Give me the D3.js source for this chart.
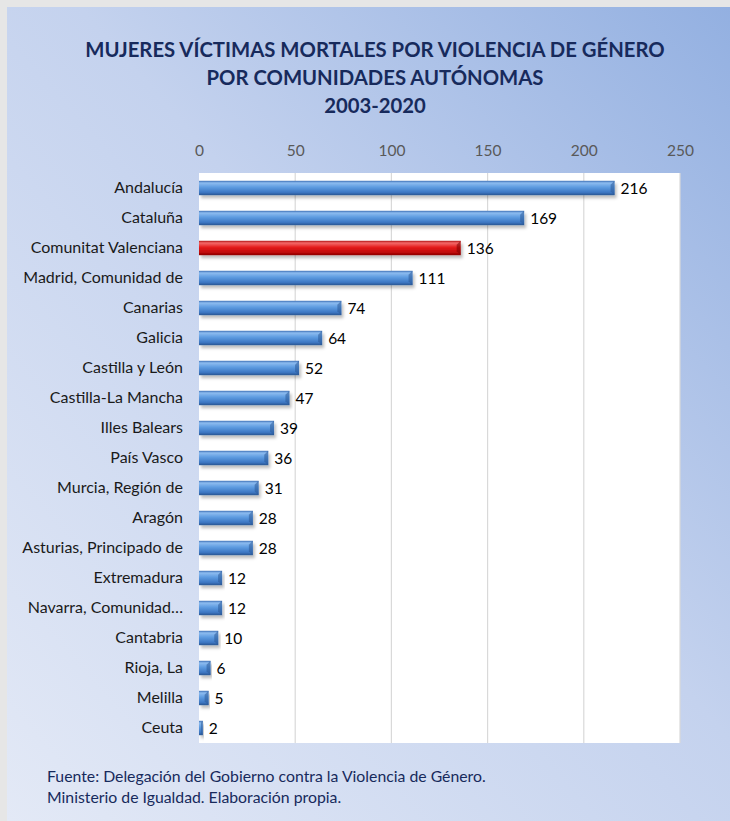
<!DOCTYPE html>
<html>
<head>
<meta charset="utf-8">
<script src="https://cdn.jsdelivr.net/npm/d3@7"></script>
<style>
  body { margin: 0; background: #fff; }
  svg { display: block; font-family: Lato, "Open Sans", sans-serif; }
</style>
</head>
<body>
<svg id="chart"></svg>
<script>
// Data
const regions = ["Andalucía", "Cataluña", "Comunitat Valenciana", "Madrid, Comunidad de ",
  "Canarias", "Galicia", "Castilla y León", "Castilla-La Mancha", "Illes Balears",
  "País Vasco", "Murcia, Región de", "Aragón", "Asturias, Principado de", "Extremadura",
  "Navarra, Comunidad…", "Cantabria", "Rioja, La", "Melilla", "Ceuta"];
const victims = [216, 169, 136, 111, 74, 64, 52, 47, 39, 36, 31, 28, 28, 12, 12, 10, 6, 5, 2];
const highlight = "Comunitat Valenciana";
const xTicks = [0, 50, 100, 150, 200, 250];
const titleLines = ["MUJERES VÍCTIMAS MORTALES POR VIOLENCIA DE GÉNERO",
  "POR COMUNIDADES AUTÓNOMAS", "2003-2020"];
const sourceLines = ["Fuente: Delegación del Gobierno contra la Violencia de Género.",
  "Ministerio de Igualdad. Elaboración propia."];

const width = 730, height = 821;
const plot = { left: 199, right: 680, top: 173, bottom: 743 };

const svg = d3.select("#chart").attr("width", width).attr("height", height);
const defs = svg.append("defs");

// background gradient, light at the bottom-left, deeper blue top-right
const bg = defs.append("linearGradient").attr("id", "bg")
  .attr("x1", 0).attr("y1", 1).attr("x2", 1).attr("y2", 0);
bg.append("stop").attr("offset", 0).attr("stop-color", "#e3e9f6");
bg.append("stop").attr("offset", 0.55).attr("stop-color", "#c4d2ee");
bg.append("stop").attr("offset", 1).attr("stop-color", "#93b0e1");

function barGradient(id, stops) {
  const g = defs.append("linearGradient").attr("id", id)
    .attr("x1", 0).attr("y1", 0).attr("x2", 0).attr("y2", 1);
  stops.forEach(s => g.append("stop").attr("offset", s[0]).attr("stop-color", s[1]));
}
barGradient("blue", [[0, "#3d6fb5"], [0.15, "#8cbcf0"], [0.45, "#5d9be0"], [0.8, "#3e78c4"], [1, "#2a5592"]]);
barGradient("red", [[0, "#b01010"], [0.15, "#f36a6a"], [0.45, "#e41e1e"], [0.8, "#c00a0a"], [1, "#8a0000"]]);

const shadow = defs.append("filter").attr("id", "shadow")
  .attr("x", "-5%").attr("y", "-30%").attr("width", "115%").attr("height", "190%");
shadow.append("feDropShadow").attr("dx", 2).attr("dy", 3).attr("stdDeviation", 1.6)
  .attr("flood-color", "#000").attr("flood-opacity", 0.25);

svg.append("rect").attr("x", 0).attr("y", 0).attr("width", width).attr("height", height).attr("fill", "#e6e6e6");
svg.append("rect").attr("x", 7).attr("y", 7).attr("width", width - 7).attr("height", height - 7).attr("fill", "url(#bg)");

// title
svg.append("g").selectAll("text").data(titleLines).enter().append("text")
  .attr("x", 375).attr("y", (d, i) => 57 + i * 28)
  .attr("text-anchor", "middle")
  .attr("font-size", 20.3).attr("font-weight", "bold").attr("fill", "#172a5c")
  .text(d => d);

// scales
const x = d3.scaleLinear().domain([0, 250]).range([plot.left, plot.right]);
const y = d3.scaleBand().domain(regions).range([plot.top, plot.bottom]).paddingInner(0.52).paddingOuter(0.26);

svg.append("rect").attr("x", plot.left).attr("y", plot.top)
  .attr("width", plot.right - plot.left).attr("height", plot.bottom - plot.top).attr("fill", "#fff");

// gridlines
svg.append("g").selectAll("line").data(xTicks.slice(1)).enter().append("line")
  .attr("x1", d => x(d)).attr("x2", d => x(d))
  .attr("y1", plot.top).attr("y2", plot.bottom)
  .attr("stroke", "#d9d9d9").attr("stroke-width", 1.2);

// top axis, labels only
const xAxis = svg.append("g").attr("transform", `translate(0,${plot.top})`)
  .call(d3.axisTop(x).tickValues(xTicks).tickSize(0).tickPadding(17));
xAxis.select(".domain").remove();
xAxis.selectAll("text").attr("font-size", 15.5).attr("fill", "#595959").attr("font-family", "Lato, sans-serif");

// category axis
const yAxis = svg.append("g").attr("transform", `translate(${plot.left},0)`)
  .call(d3.axisLeft(y).tickSize(0).tickPadding(16));
yAxis.select(".domain").remove();
yAxis.selectAll("text").attr("font-size", 16).attr("fill", "#1a1a1a").attr("font-family", "Lato, sans-serif");

// bars
const rows = regions.map((r, i) => ({ region: r, value: victims[i] }));
const bars = svg.append("g").selectAll("g").data(rows).enter().append("g");
bars.append("rect")
  .attr("x", x(0)).attr("y", d => y(d.region))
  .attr("width", d => x(d.value) - x(0)).attr("height", y.bandwidth())
  .attr("fill", d => d.region === highlight ? "url(#red)" : "url(#blue)")
  .attr("filter", "url(#shadow)");
// bevelled end cap
bars.append("path")
  .attr("d", d => {
    const x1 = x(d.value), y0 = y(d.region), h = y.bandwidth();
    const b = Math.min(4, (x1 - x(0)) / 2);
    return `M${x1},${y0}L${x1 - b},${y0 + b}L${x1 - b},${y0 + h - b}L${x1},${y0 + h}Z`;
  })
  .attr("fill", d => d.region === highlight ? "#7a0000" : "#2b5a98")
  .attr("opacity", 0.55);

// value labels
bars.append("text")
  .attr("x", d => x(d.value) + 6).attr("y", d => y(d.region) + y.bandwidth() / 2)
  .attr("dy", "0.36em").attr("font-size", 15.5).attr("fill", "#000")
  .text(d => d.value);

// source
svg.append("g").selectAll("text").data(sourceLines).enter().append("text")
  .attr("x", 47).attr("y", (d, i) => 782 + i * 21)
  .attr("font-size", 15.8).attr("fill", "#172a5c")
  .text(d => d);
</script>
</body>
</html>
